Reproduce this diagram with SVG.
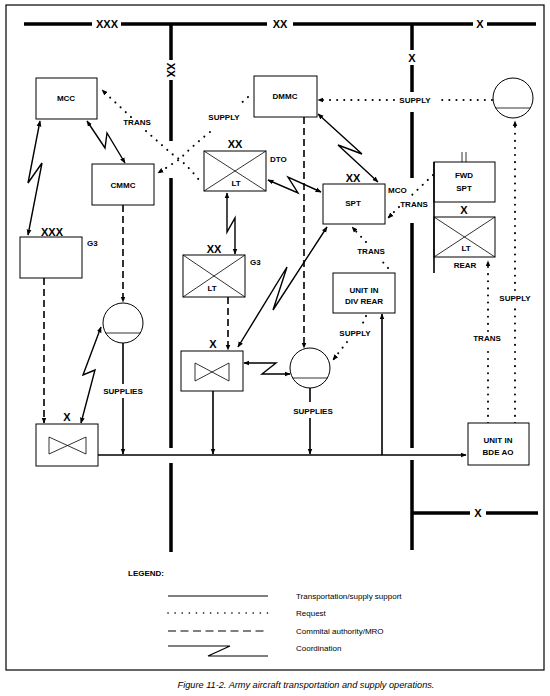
<svg xmlns="http://www.w3.org/2000/svg" width="550" height="696" viewBox="0 0 550 696">
<style>
text{font-family:"Liberation Sans",Arial,sans-serif;fill:#000}
.l{font-size:8px;font-weight:bold;text-anchor:middle}
.ll{font-size:8px;font-weight:bold}
.e{font-size:11px;font-weight:bold;text-anchor:middle}
.box{fill:#fff;stroke:#000;stroke-width:1}
.thin{fill:none;stroke:#000;stroke-width:0.8}
.bar{fill:none;stroke:#000;stroke-width:3.5}
.sol{fill:none;stroke:#000;stroke-width:1.6}
.dot{fill:none;stroke:#000;stroke-width:2;stroke-linecap:round;stroke-dasharray:0.1 7}
.dash{fill:none;stroke:#000;stroke-width:1.6;stroke-dasharray:7 4}
.zz{fill:none;stroke:#000;stroke-width:1.4;stroke-linejoin:miter}
.leg{font-size:8px}
</style>
<defs>
<marker id="ah" viewBox="0 0 10 10" refX="9" refY="5" markerWidth="6" markerHeight="6" markerUnits="userSpaceOnUse" orient="auto-start-reverse"><path d="M0,1 L10,5 L0,9 z" fill="#000"/></marker>
</defs>
<rect x="6" y="5" width="538" height="665" fill="#fff" stroke="#000" stroke-width="1.2"/>

<g id="boundaries">
<path class="bar" d="M24,24 H92 M121,24 H267 M293,24 H473 M487,24 H536"/>
<text class="e" x="107" y="28">XXX</text>
<text class="e" x="280" y="28">XX</text>
<text class="e" x="480" y="28">X</text>
<path class="bar" d="M171,24 V60 M171,80 V141 M171,178 V448 M171,463 V552"/>
<text class="e" transform="translate(167,70) rotate(90)">XX</text>
<path class="bar" d="M412,24 V50 M412,65 V92 M412,112 V178 M412,223 V448 M412,460 V550 M412,513 H470 M486,513 H538"/>
<text class="e" x="412" y="62">X</text>
<text class="e" x="478" y="517">X</text>
</g>

<g id="connectors">
<path class="sol" d="M98,455 H466" marker-end="url(#ah)"/>
<path class="sol" d="M123,343 V384 M123,398 V454" marker-end="url(#ah)"/>
<path class="sol" d="M213,391 V454" marker-end="url(#ah)"/>
<path class="sol" d="M310,388 V402 M310,418 V454" marker-end="url(#ah)"/>
<path class="sol" d="M382,455 V314" marker-end="url(#ah)"/>
<path class="dash" d="M44,278 V423" marker-end="url(#ah)"/>
<path class="dash" d="M123,205 V302" marker-end="url(#ah)"/>
<path class="dash" d="M228,297 V350" marker-end="url(#ah)"/>
<path class="dash" d="M304,117 V348" marker-end="url(#ah)"/>
<path class="zz" d="M40,121 L28,183 L42,163 L28,235" marker-start="url(#ah)" marker-end="url(#ah)"/>
<path class="zz" d="M87,121 L105,148 L107,133 L125,163" marker-start="url(#ah)" marker-end="url(#ah)"/>
<path class="zz" d="M101,327 L83,375 L95,370 L81,423" marker-start="url(#ah)" marker-end="url(#ah)"/>
<path class="zz" d="M227,193 V232 L235,218 V254" marker-start="url(#ah)" marker-end="url(#ah)"/>
<path class="zz" d="M268,180 L298,193 L288,177 L321,192" marker-start="url(#ah)" marker-end="url(#ah)"/>
<path class="zz" d="M318,114 L362,154 L338,145 L378,182" marker-start="url(#ah)" marker-end="url(#ah)"/>
<path class="zz" d="M327,227 L273,310 L287,267 L238,347" marker-start="url(#ah)" marker-end="url(#ah)"/>
<path class="zz" d="M244,363 H276 L262,374 H290" marker-start="url(#ah)" marker-end="url(#ah)"/>
<path class="dot" d="M131,117 L102,90" marker-end="url(#ah)"/>
<path class="dot" d="M146,131 L172,154 Q186,163 199,180"/>
<path class="dot" d="M248,97 L238,106"/>
<path class="dot" d="M210,132 Q190,148 180,159 L158,173" marker-end="url(#ah)"/>
<path class="dot" d="M492,100 H436"/>
<path class="dot" d="M394,100 H318" marker-end="url(#ah)"/>
<path class="dot" d="M515,423 V307"/>
<path class="dot" d="M515,290 V121" marker-end="url(#ah)"/>
<path class="dot" d="M488,423 V345"/>
<path class="dot" d="M488,331 V261" marker-end="url(#ah)"/>
<path class="dot" d="M433,175 L412,195"/>
<path class="dot" d="M399,207 L388,218" marker-end="url(#ah)"/>
<path class="dot" d="M388,268 L382,261"/>
<path class="dot" d="M366,242 L352,227" marker-end="url(#ah)"/>
<path class="dot" d="M366,316 L362,325"/>
<path class="dot" d="M347,342 L333,360" marker-end="url(#ah)"/>
</g>

<g id="labels">
<text class="l" x="137" y="125">TRANS</text>
<text class="l" x="224" y="120">SUPPLY</text>
<text class="l" x="415" y="103">SUPPLY</text>
<text class="l" x="515" y="301">SUPPLY</text>
<text class="l" x="487" y="341">TRANS</text>
<text class="l" x="414" y="207">TRANS</text>
<text class="l" x="371" y="254">TRANS</text>
<text class="l" x="355" y="336">SUPPLY</text>
<text class="l" x="123" y="394">SUPPLIES</text>
<text class="l" x="313" y="414">SUPPLIES</text>
</g>

<g id="mcc"><rect class="box" x="36" y="78" width="61" height="41"/><text class="l" x="66" y="101">MCC</text></g>
<g id="cmmc"><rect class="box" x="92" y="164" width="62" height="41"/><text class="l" x="123" y="188">CMMC</text></g>
<g id="corps-g3"><rect class="box" x="20" y="237" width="62" height="41"/><text class="e" x="52" y="236">XXX</text><text class="ll" x="87" y="246">G3</text></g>
<g id="corps-supply"><circle class="box" cx="123" cy="323" r="20"/><path class="thin" d="M105.7,333 H140.3"/></g>
<g id="corps-aviation"><rect class="box" x="36" y="424" width="62" height="42"/><text class="e" x="67" y="421">X</text><path class="thin" d="M49,437 V454 L86,437 V454 Z"/></g>

<g id="dmmc"><rect class="box" x="254" y="76" width="63" height="41"/><text class="l" x="285" y="99">DMMC</text></g>
<g id="dto"><rect class="box" x="204" y="151" width="62" height="40"/><path class="thin" d="M204,151 L266,191 M266,151 L204,191"/><text class="e" x="235" y="148">XX</text><text class="l" x="236" y="186">LT</text><text class="ll" x="270" y="162">DTO</text></g>
<g id="div-g3"><rect class="box" x="183" y="255" width="62" height="42"/><path class="thin" d="M183,255 L245,297 M245,255 L183,297"/><text class="e" x="214" y="253">XX</text><text class="l" x="212" y="291">LT</text><text class="ll" x="250" y="265">G3</text></g>
<g id="spt"><rect class="box" x="323" y="184" width="62" height="40"/><text class="e" x="353" y="182">XX</text><text class="l" x="353" y="206">SPT</text><text class="ll" x="388" y="193">MCO</text></g>
<g id="div-aviation"><rect class="box" x="181" y="351" width="62" height="40"/><text class="e" x="213" y="348">X</text><path class="thin" d="M195,363 V381 L229,363 V381 Z"/></g>
<g id="div-supply"><circle class="box" cx="310" cy="368" r="20"/><path class="thin" d="M292.7,378 H327.3"/></g>
<g id="unit-div-rear"><rect class="box" x="333" y="273" width="62" height="40"/><text class="l" x="364" y="293">UNIT IN</text><text class="l" x="364" y="304">DIV REAR</text></g>

<g id="fwd-spt"><rect class="box" x="434" y="162" width="61" height="40"/><path class="thin" d="M462,152 V162 M466,152 V162"/><text class="l" x="464" y="178">FWD</text><text class="l" x="464" y="191">SPT</text><text class="e" x="464" y="214">X</text><rect class="box" x="434" y="217" width="61" height="40"/><path class="thin" d="M434,217 L495,257 M495,217 L434,257"/><path d="M434,162 V273" stroke="#000" stroke-width="1.6"/><text class="l" x="466" y="251">LT</text><text class="l" x="465" y="268">REAR</text></g>
<g id="bde-supply"><circle class="box" cx="513" cy="98" r="20"/><path class="thin" d="M495.7,108 H530.3"/></g>
<g id="unit-bde"><rect class="box" x="468" y="423" width="61" height="42"/><text class="l" x="498" y="443">UNIT IN</text><text class="l" x="498" y="455">BDE AO</text></g>

<g id="legend">
<text class="ll" x="128" y="576">LEGEND:</text>
<path d="M168,596 H268" stroke="#000" stroke-width="1.2"/>
<path d="M168,613 H268" fill="none" stroke="#000" stroke-width="1.6" stroke-linecap="round" stroke-dasharray="0.1 7"/>
<path d="M168,631 H268" fill="none" stroke="#000" stroke-width="1.2" stroke-dasharray="8 4.5"/>
<path d="M168,646 H230 L208,656 H268" fill="none" stroke="#000" stroke-width="1.2"/>
<text class="leg" x="296" y="599">Transportation/supply support</text>
<text class="leg" x="296" y="616">Request</text>
<text class="leg" x="296" y="634">Commital authority/MRO</text>
<text class="leg" x="296" y="651">Coordination</text>
</g>
<text x="306" y="688" font-size="9.2" font-style="italic" text-anchor="middle">Figure 11-2.  Army aircraft transportation and supply operations.</text>
</svg>
